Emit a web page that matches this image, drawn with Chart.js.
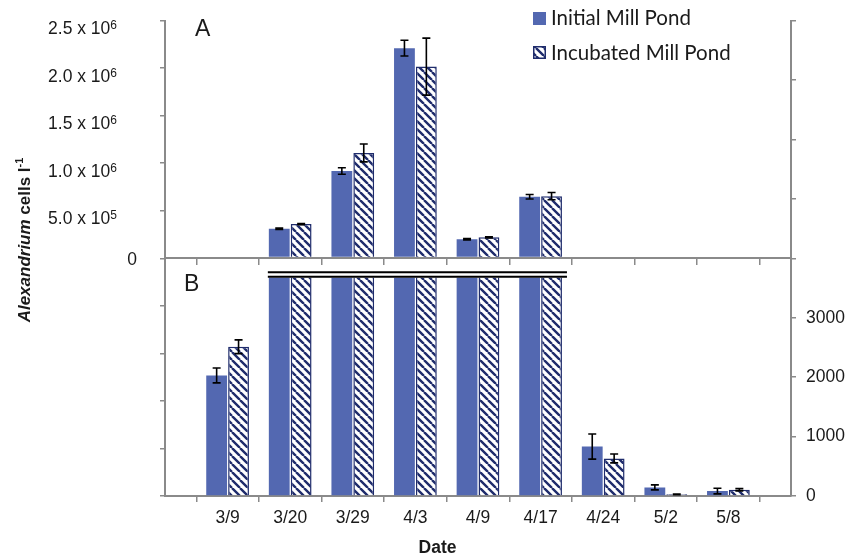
<!DOCTYPE html>
<html><head><meta charset="utf-8">
<script src="https://cdn.jsdelivr.net/npm/chart.js@4/dist/chart.umd.min.js"></script>
<style>html,body{margin:0;padding:0;background:#fff}#wrap{width:849px;height:555px;position:relative}</style>
</head><body><div id="wrap"><canvas id="c" width="849" height="555"></canvas></div>
<script>
// ---- data ----
const dates = ['', '3/9', '3/20', '3/29', '4/3', '4/9', '4/17', '4/24', '5/2', '5/8', ''];
const initialMillPond   = [null, 2029, 310000, 917000, 2209000, 200000, 647000, 832, 145, 83, null];
const initialErr        = [null, 125, 8000, 34000, 83000, 8000, 24000, 211, 42, 47, null];
const incubatedMillPond = [null, 2511, 359000, 1107000, 2015000, 220000, 653000, 632, 28, 105, null];
const incubatedErr      = [null, 116, 6000, 94000, 300000, 6000, 38000, 75, 5, 19, null];
const leftTickValues = [0, 500000, 1000000, 1500000, 2000000, 2500000];
const leftTickText   = ['0', '5.0 x 10', '1.0 x 10', '1.5 x 10', '2.0 x 10', '2.5 x 10'];
const leftTickExp    = ['', '5', '6', '6', '6', '6'];
const rightTickLabels = [0, 1000, 2000, 3000];
const breakValue = 3765;
const seriesNames = ['Initial Mill Pond', 'Incubated Mill Pond'];

// ---- styles ----
const FONT = "'Liberation Sans', Arial, sans-serif";
const LEGFONT = "Lato, 'Open Sans', sans-serif";
const BLUE = '#5368B1';
const NAVY = '#1F2C6C';
const AXIS = '#8a8a8a';
const TXT = '#1a1a1a';

const canvas = document.getElementById('c');
const ctx0 = canvas.getContext('2d');
function makeHatch() {
  const s = 8, c = document.createElement('canvas');
  c.width = s; c.height = s;
  const g = c.getContext('2d');
  g.fillStyle = '#fff'; g.fillRect(0, 0, s, s);
  g.strokeStyle = NAVY; g.lineWidth = 2.4;
  g.beginPath();
  for (const o of [-s, 0, s]) { g.moveTo(o, 0); g.lineTo(o + s, s); }
  g.stroke();
  return ctx0.createPattern(c, 'repeat');
}
const HATCH = makeHatch();

const common = { categoryPercentage: 0.7, barPercentage: 0.95, xAxisID: 'x' };
const datasets = [
  Object.assign({ label: seriesNames[0], data: initialMillPond, errors: initialErr, yAxisID: 'yL', stack: 'initial', panel: 'A', backgroundColor: BLUE, borderWidth: 0 }, common),
  Object.assign({ label: seriesNames[1], data: incubatedMillPond, errors: incubatedErr, yAxisID: 'yL', stack: 'incubated', panel: 'A', backgroundColor: HATCH, borderColor: NAVY, borderWidth: 1.5 }, common),
  Object.assign({ label: seriesNames[0], data: initialMillPond, errors: initialErr, yAxisID: 'yR', stack: 'initial', panel: 'B', backgroundColor: BLUE, borderWidth: 0 }, common),
  Object.assign({ label: seriesNames[1], data: incubatedMillPond, errors: incubatedErr, yAxisID: 'yR', stack: 'incubated', panel: 'B', backgroundColor: HATCH, borderColor: NAVY, borderWidth: 1.5 }, common)
];

const BREAK_GAP = 4.6;

const decor = {
  id: 'decor',
  beforeDatasetDraw(chart, args) {
    const ds = chart.data.datasets[args.index];
    const a = chart.chartArea;
    const ctx = chart.ctx;
    ctx.save();
    ctx.beginPath();
    if (ds.panel === 'B') {
      const yb = chart.scales.yR.getPixelForValue(breakValue) + BREAK_GAP + 1;
      ctx.rect(a.left - 5, yb, a.right - a.left + 10, a.bottom + 5 - yb);
    } else {
      // panel A: only the part above its zero line, small values vanish
      const y0 = chart.scales.yL.getPixelForValue(0) - 1.5;
      ctx.rect(a.left - 5, a.top - 5, a.right - a.left + 10, y0 - a.top + 5);
    }
    ctx.clip();
  },
  afterDatasetDraw(chart) {
    chart.ctx.restore();
  },
  afterDatasetsDraw(chart) {
    const ctx = chart.ctx;
    const yR = chart.scales.yR;
    const yBreak = yR.getPixelForValue(breakValue);
    // break lines
    let first = -1, last = -1;
    dates.forEach((d, i) => {
      if ((initialMillPond[i] ?? 0) > breakValue || (incubatedMillPond[i] ?? 0) > breakValue) {
        if (first < 0) first = i; last = i;
      }
    });
    if (first >= 0) {
      const e1 = chart.getDatasetMeta(2).data[first];
      const e2 = chart.getDatasetMeta(3).data[last];
      const xl = e1.x - e1.width / 2 - 1;
      const xr = e2.x + e2.width / 2 + 5;
      ctx.save();
      ctx.fillStyle = '#fff';
      ctx.fillRect(xl, yBreak, xr - xl, BREAK_GAP);
      ctx.strokeStyle = '#000';
      ctx.lineWidth = 2;
      ctx.beginPath();
      ctx.moveTo(xl, yBreak); ctx.lineTo(xr, yBreak);
      ctx.moveTo(xl, yBreak + BREAK_GAP); ctx.lineTo(xr, yBreak + BREAK_GAP);
      ctx.stroke();
      ctx.restore();
    }
    // error bars
    ctx.save();
    ctx.strokeStyle = '#000';
    ctx.lineWidth = 1.6;
    chart.data.datasets.forEach((ds, di) => {
      const meta = chart.getDatasetMeta(di);
      const sc = chart.scales[ds.yAxisID];
      ds.data.forEach((v, i) => {
        if (v == null) return;
        const broken = v > breakValue;
        if (ds.panel === 'A' && !broken) return;
        if (ds.panel === 'B' && broken) return;
        const e = ds.errors[i];
        const x = meta.data[i].x;
        const yt = sc.getPixelForValue(v + e);
        const yb = sc.getPixelForValue(Math.max(v - e, 0));
        ctx.beginPath();
        ctx.moveTo(x, yt); ctx.lineTo(x, yb);
        ctx.moveTo(x - 4, yt); ctx.lineTo(x + 4, yt);
        ctx.moveTo(x - 4, yb); ctx.lineTo(x + 4, yb);
        ctx.stroke();
      });
    });
    ctx.restore();
  },
  afterDraw(chart) {
    const ctx = chart.ctx;
    const yL = chart.scales.yL;
    ctx.save();
    ctx.fillStyle = TXT;
    ctx.textBaseline = 'alphabetic';
    // left tick labels with superscripts
    leftTickValues.forEach((v, i) => {
      const y = yL.getPixelForValue(v);
      if (!leftTickExp[i]) {
        ctx.font = '17.5px ' + FONT;
        ctx.textAlign = 'right';
        ctx.fillText(leftTickText[i], yL.right - 28, y + 7);
      } else {
        ctx.font = '12px ' + FONT;
        const sw = ctx.measureText(leftTickExp[i]).width;
        const xr = yL.right - 48;
        ctx.textAlign = 'left';
        ctx.fillText(leftTickExp[i], xr - sw, y + 8.5);
        ctx.font = '17.5px ' + FONT;
        ctx.textAlign = 'right';
        ctx.fillText(leftTickText[i], xr - sw, y + 13.5);
      }
    });
    // y-axis title (rotated)
    ctx.save();
    ctx.translate(30, 240);
    ctx.rotate(-Math.PI / 2);
    const parts = [
      { t: 'Alexandrium', f: 'italic bold 17px ' + FONT, dy: 0 },
      { t: ' cells l', f: 'bold 17px ' + FONT, dy: 0 },
      { t: '-1', f: 'bold 11px ' + FONT, dy: -7 }
    ];
    let total = 0;
    parts.forEach(p => { ctx.font = p.f; p.w = ctx.measureText(p.t).width; total += p.w; });
    let x = -total / 2;
    ctx.textAlign = 'left';
    parts.forEach(p => { ctx.font = p.f; ctx.fillText(p.t, x, p.dy); x += p.w; });
    ctx.restore();
    // x-axis title
    ctx.font = 'bold 17.5px ' + FONT;
    ctx.textAlign = 'center';
    ctx.fillText('Date', 437.5, 552.5);
    // panel letters
    ctx.font = '23px ' + FONT;
    ctx.textAlign = 'left';
    ctx.fillText('A', 195, 36);
    ctx.fillText('B', 184, 291);
    // legend
    ctx.font = '20.5px ' + LEGFONT;
    ctx.fillStyle = BLUE;
    ctx.fillRect(533, 12, 13, 13);
    ctx.fillStyle = HATCH;
    ctx.fillRect(533, 46, 13, 13);
    ctx.strokeStyle = NAVY; ctx.lineWidth = 1.5;
    ctx.strokeRect(533.75, 46.75, 11.5, 11.5);
    ctx.fillStyle = TXT;
    ctx.fillText(seriesNames[0], 551, 25);
    ctx.fillText(seriesNames[1], 551, 59.5);
    ctx.restore();
  }
};

const gridOpts = { display: true, drawOnChartArea: false, drawTicks: true, tickLength: 6, color: AXIS, lineWidth: 1.5 };
const borderOpts = { display: true, color: AXIS, width: 2 };

new Chart(canvas, {
  type: 'bar',
  data: { labels: dates, datasets: datasets },
  options: {
    responsive: false, animation: false, devicePixelRatio: 1,
    layout: { padding: { top: 15, left: 0, right: 0, bottom: 0 } },
    plugins: { legend: { display: false }, tooltip: { enabled: false } },
    scales: {
      x: {
        type: 'category', position: 'bottom', offset: false,
        grid: gridOpts, border: borderOpts,
        ticks: { font: { family: FONT, size: 17.5 }, color: TXT, padding: 6, autoSkip: false, maxRotation: 0 },
        afterFit: s => { s.height = 59; }
      },
      xTop: {
        type: 'category', position: { yL: 0 }, offset: false,
        grid: gridOpts, border: borderOpts,
        ticks: { display: false }
      },
      yL: {
        type: 'linear', position: 'left', min: -2500000, max: 2500000, stacked: false,
        ticks: { display: false, stepSize: 500000 },
        grid: Object.assign({}, gridOpts, { tickLength: 5 }), border: borderOpts,
        afterFit: s => { s.width = 165; }
      },
      yR: {
        type: 'linear', position: 'right', min: 0, max: 8000, stacked: false,
        ticks: { stepSize: 1000, font: { family: FONT, size: 17.5 }, color: TXT, padding: 10,
          callback: v => rightTickLabels.includes(v) ? String(v) : '' },
        grid: Object.assign({}, gridOpts, { tickLength: 5 }), border: borderOpts,
        afterFit: s => { s.width = 58; }
      }
    }
  },
  plugins: [decor]
});
</script>
</body></html>
